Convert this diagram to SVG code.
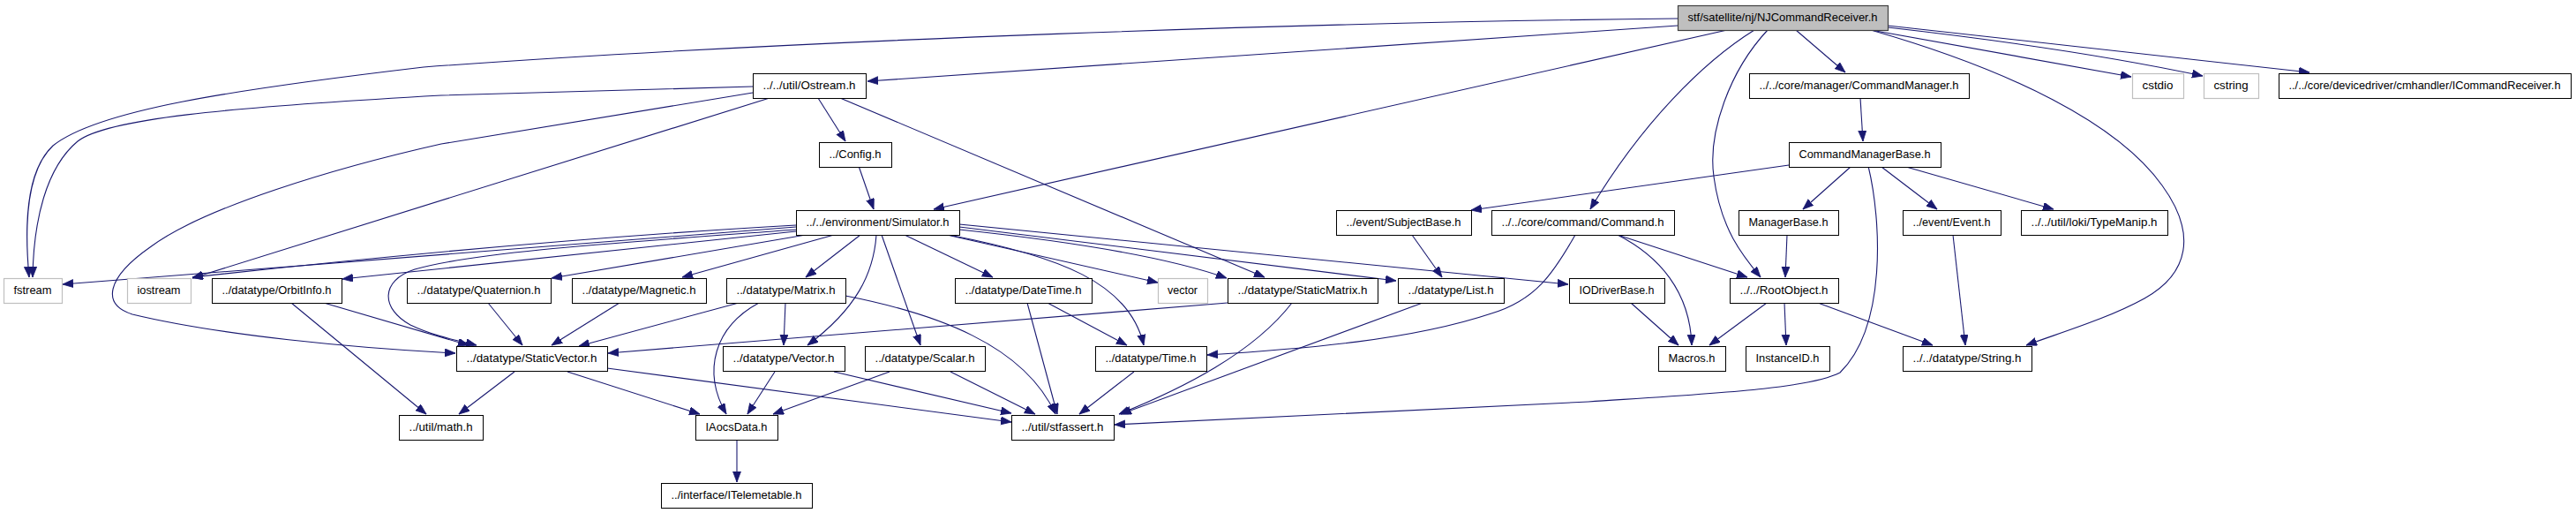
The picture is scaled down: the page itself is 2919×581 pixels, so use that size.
<svg xmlns="http://www.w3.org/2000/svg" width="2919" height="581" viewBox="0 0 2919 581">
<style>
.box{fill:#ffffff;stroke:#000000;stroke-width:1}
.ext{fill:#ffffff;stroke:#bfbfbf;stroke-width:1.2}
.root{fill:#bfbfbf;stroke:#404040;stroke-width:1.2}
text{font-family:"Liberation Sans",Arial,sans-serif;font-size:13px;fill:#000000;text-anchor:middle}
.e{fill:none;stroke:#191970;stroke-width:1.1;marker-end:url(#arr)}
</style>
<defs>
<marker id="arr" markerUnits="userSpaceOnUse" markerWidth="13" markerHeight="10" refX="12" refY="4.5" orient="auto">
<path d="M0,0 L12,4.5 L0,9 z" fill="#191970" stroke="#191970" stroke-width="0.8"/>
</marker>
</defs>
<rect width="2919" height="581" fill="#ffffff"/>
<g id="connectors">
<path class="e" d="M1901,21 C1500,25 900,45 480,76 C260,102 110,125 60,165 C28,195 28,260 33,314"/>
<path class="e" d="M853,98 L500,108 C250,122 120,135 88,160 C52,190 38,250 37,314"/>
<path class="e" d="M1901,29 L983,92"/>
<path class="e" d="M1957,34 L1058,237"/>
<path class="e" d="M1988,34 C1930,70 1860,140 1802,237"/>
<path class="e" d="M2003,34 C1960,80 1935,150 1942,200 C1950,260 1975,290 1995,314"/>
<path class="e" d="M2035,34 L2091,82"/>
<path class="e" d="M2120,34 C2280,80 2400,140 2450,210 C2490,265 2480,310 2430,338 C2390,360 2340,375 2296,391"/>
<path class="e" d="M2120,34 L2415,87"/>
<path class="e" d="M2139,31 Q2350,55 2496,86"/>
<path class="e" d="M2139,29 L2617,82"/>
<path class="e" d="M853,105 L500,163 C380,190 230,235 170,280 C120,315 115,345 150,356 C250,380 400,394 516,400"/>
<path class="e" d="M872,111 L218,315"/>
<path class="e" d="M927,111 L958,160"/>
<path class="e" d="M952,111 L1433,314"/>
<path class="e" d="M973,188 L990,237"/>
<path class="e" d="M902,257 L71,322"/>
<path class="e" d="M902,255 Q600,272 218,314"/>
<path class="e" d="M902,262 L388,316"/>
<path class="e" d="M902,260 C700,275 540,285 470,305 C430,318 432,350 465,368 C490,380 515,385 540,391"/>
<path class="e" d="M913,266 L625,315"/>
<path class="e" d="M945,266 L773,314"/>
<path class="e" d="M975,266 L913,314"/>
<path class="e" d="M993,266 C990,310 970,350 915,391"/>
<path class="e" d="M999,266 L1043,391"/>
<path class="e" d="M1025,266 L1125,314"/>
<path class="e" d="M1073,266 L1312,320"/>
<path class="e" d="M1075,266 C1200,290 1280,320 1296,391"/>
<path class="e" d="M1087,260 C1200,272 1320,290 1390,315"/>
<path class="e" d="M1087,257 L1582,318"/>
<path class="e" d="M1087,254 L1777,322"/>
<path class="e" d="M367,343 L531,391"/>
<path class="e" d="M330,343 L483,469"/>
<path class="e" d="M553,343 L592,391"/>
<path class="e" d="M702,343 L625,391"/>
<path class="e" d="M837,343 L656,392"/>
<path class="e" d="M1391,343 L689,400"/>
<path class="e" d="M890,343 L888,391"/>
<path class="e" d="M860,343 C810,370 795,420 823,469"/>
<path class="e" d="M958,335 C1060,355 1160,390 1196,469"/>
<path class="e" d="M583,421 L520,469"/>
<path class="e" d="M643,421 L793,469"/>
<path class="e" d="M688,417 L1146,478"/>
<path class="e" d="M878,421 L847,469"/>
<path class="e" d="M945,421 L1146,468"/>
<path class="e" d="M1008,421 L876,469"/>
<path class="e" d="M1077,421 L1173,469"/>
<path class="e" d="M1164,343 L1198,469"/>
<path class="e" d="M1187,343 L1277,391"/>
<path class="e" d="M1285,421 L1223,469"/>
<path class="e" d="M1464,343 C1420,400 1340,440 1268,469"/>
<path class="e" d="M1612,343 L1270,469"/>
<path class="e" d="M2117,188 C2132,250 2138,370 2085,422 C2050,440 1950,445 1800,455 L1263,481"/>
<path class="e" d="M1785,266 C1760,310 1740,340 1690,355 C1600,385 1480,395 1368,402"/>
<path class="e" d="M1833,266 C1880,290 1915,330 1917,391"/>
<path class="e" d="M1833,266 L1980,314"/>
<path class="e" d="M1600,266 L1634,314"/>
<path class="e" d="M1848,343 L1902,391"/>
<path class="e" d="M2002,343 L1937,391"/>
<path class="e" d="M2022,343 L2024,391"/>
<path class="e" d="M2060,343 L2190,391"/>
<path class="e" d="M2213,266 L2227,391"/>
<path class="e" d="M2025,266 L2023,314"/>
<path class="e" d="M2027,187 L1667,238"/>
<path class="e" d="M2097,189 L2043,237"/>
<path class="e" d="M2132,189 L2195,237"/>
<path class="e" d="M2160,189 L2327,237"/>
<path class="e" d="M2108,111 L2111,160"/>
<path class="e" d="M835,498 L835,546"/>
</g>
<g id="n_root"><rect class="root" x="1901.5" y="6.5" width="238" height="28"/><text x="2020" y="24" textLength="215" lengthAdjust="spacingAndGlyphs">stf/satellite/nj/NJCommandReceiver.h</text></g>
<g id="n_ostream"><rect class="box" x="853.5" y="83.5" width="128" height="28"/><text x="917" y="101" textLength="105" lengthAdjust="spacingAndGlyphs">../../util/Ostream.h</text></g>
<g id="n_cmdmgr"><rect class="box" x="1982.5" y="83.5" width="249" height="28"/><text x="2106.5" y="101" textLength="226" lengthAdjust="spacingAndGlyphs">../../core/manager/CommandManager.h</text></g>
<g id="n_cstdio"><rect class="ext" x="2416.5" y="83.5" width="58" height="28"/><text x="2445" y="101" textLength="35" lengthAdjust="spacingAndGlyphs">cstdio</text></g>
<g id="n_cstring"><rect class="ext" x="2497.5" y="83.5" width="62" height="28"/><text x="2528" y="101" textLength="39" lengthAdjust="spacingAndGlyphs">cstring</text></g>
<g id="n_icmdrecv"><rect class="box" x="2582.5" y="83.5" width="331" height="28"/><text x="2747.5" y="101" textLength="308" lengthAdjust="spacingAndGlyphs">../../core/devicedriver/cmhandler/ICommandReceiver.h</text></g>
<g id="n_config"><rect class="box" x="928.5" y="161.5" width="82" height="28"/><text x="969" y="179" textLength="59" lengthAdjust="spacingAndGlyphs">../Config.h</text></g>
<g id="n_cmbase"><rect class="box" x="2027.5" y="161.5" width="172" height="28"/><text x="2113" y="179" textLength="149" lengthAdjust="spacingAndGlyphs">CommandManagerBase.h</text></g>
<g id="n_simulator"><rect class="box" x="902.5" y="238.5" width="185" height="28"/><text x="994.5" y="256" textLength="162" lengthAdjust="spacingAndGlyphs">../../environment/Simulator.h</text></g>
<g id="n_subjectbase"><rect class="box" x="1514.5" y="238.5" width="153" height="28"/><text x="1590.5" y="256" textLength="130" lengthAdjust="spacingAndGlyphs">../event/SubjectBase.h</text></g>
<g id="n_command"><rect class="box" x="1690.5" y="238.5" width="207" height="28"/><text x="1793.5" y="256" textLength="184" lengthAdjust="spacingAndGlyphs">../../core/command/Command.h</text></g>
<g id="n_managerbase"><rect class="box" x="1970.5" y="238.5" width="113" height="28"/><text x="2026.5" y="256" textLength="90" lengthAdjust="spacingAndGlyphs">ManagerBase.h</text></g>
<g id="n_event"><rect class="box" x="2156.5" y="238.5" width="111" height="28"/><text x="2211.5" y="256" textLength="88" lengthAdjust="spacingAndGlyphs">../event/Event.h</text></g>
<g id="n_typemanip"><rect class="box" x="2290.5" y="238.5" width="166" height="28"/><text x="2373" y="256" textLength="143" lengthAdjust="spacingAndGlyphs">../../util/loki/TypeManip.h</text></g>
<g id="n_fstream"><rect class="ext" x="4.5" y="315.5" width="66" height="28"/><text x="37" y="333" textLength="43" lengthAdjust="spacingAndGlyphs">fstream</text></g>
<g id="n_iostream"><rect class="ext" x="144.5" y="315.5" width="72" height="28"/><text x="180" y="333" textLength="49" lengthAdjust="spacingAndGlyphs">iostream</text></g>
<g id="n_orbitinfo"><rect class="box" x="240.5" y="315.5" width="147" height="28"/><text x="313.5" y="333" textLength="124" lengthAdjust="spacingAndGlyphs">../datatype/OrbitInfo.h</text></g>
<g id="n_quaternion"><rect class="box" x="461.5" y="315.5" width="163" height="28"/><text x="542.5" y="333" textLength="140" lengthAdjust="spacingAndGlyphs">../datatype/Quaternion.h</text></g>
<g id="n_magnetic"><rect class="box" x="648.5" y="315.5" width="152" height="28"/><text x="724" y="333" textLength="129" lengthAdjust="spacingAndGlyphs">../datatype/Magnetic.h</text></g>
<g id="n_matrix"><rect class="box" x="823.5" y="315.5" width="135" height="28"/><text x="890.5" y="333" textLength="112" lengthAdjust="spacingAndGlyphs">../datatype/Matrix.h</text></g>
<g id="n_datetime"><rect class="box" x="1082.5" y="315.5" width="155" height="28"/><text x="1159.5" y="333" textLength="132" lengthAdjust="spacingAndGlyphs">../datatype/DateTime.h</text></g>
<g id="n_vector"><rect class="ext" x="1312.5" y="315.5" width="56" height="28"/><text x="1340" y="333" textLength="34" lengthAdjust="spacingAndGlyphs">vector</text></g>
<g id="n_staticmatrix"><rect class="box" x="1391.5" y="315.5" width="170" height="28"/><text x="1476" y="333" textLength="147" lengthAdjust="spacingAndGlyphs">../datatype/StaticMatrix.h</text></g>
<g id="n_list"><rect class="box" x="1584.5" y="315.5" width="120" height="28"/><text x="1644" y="333" textLength="97" lengthAdjust="spacingAndGlyphs">../datatype/List.h</text></g>
<g id="n_iodriverbase"><rect class="box" x="1778.5" y="315.5" width="108" height="28"/><text x="1832" y="333" textLength="85" lengthAdjust="spacingAndGlyphs">IODriverBase.h</text></g>
<g id="n_rootobject"><rect class="box" x="1960.5" y="315.5" width="123" height="28"/><text x="2021.5" y="333" textLength="100" lengthAdjust="spacingAndGlyphs">../../RootObject.h</text></g>
<g id="n_staticvector"><rect class="box" x="517.5" y="392.5" width="171" height="28"/><text x="602.5" y="410" textLength="148" lengthAdjust="spacingAndGlyphs">../datatype/StaticVector.h</text></g>
<g id="n_vectorh"><rect class="box" x="819.5" y="392.5" width="138" height="28"/><text x="888" y="410" textLength="115" lengthAdjust="spacingAndGlyphs">../datatype/Vector.h</text></g>
<g id="n_scalar"><rect class="box" x="980.5" y="392.5" width="136" height="28"/><text x="1048" y="410" textLength="113" lengthAdjust="spacingAndGlyphs">../datatype/Scalar.h</text></g>
<g id="n_time"><rect class="box" x="1241.5" y="392.5" width="126" height="28"/><text x="1304" y="410" textLength="103" lengthAdjust="spacingAndGlyphs">../datatype/Time.h</text></g>
<g id="n_macros"><rect class="box" x="1879.5" y="392.5" width="76" height="28"/><text x="1917" y="410" textLength="53" lengthAdjust="spacingAndGlyphs">Macros.h</text></g>
<g id="n_instanceid"><rect class="box" x="1978.5" y="392.5" width="95" height="28"/><text x="2025.5" y="410" textLength="72" lengthAdjust="spacingAndGlyphs">InstanceID.h</text></g>
<g id="n_string"><rect class="box" x="2156.5" y="392.5" width="146" height="28"/><text x="2229" y="410" textLength="123" lengthAdjust="spacingAndGlyphs">../../datatype/String.h</text></g>
<g id="n_math"><rect class="box" x="452.5" y="470.5" width="95" height="28"/><text x="499.5" y="488" textLength="72" lengthAdjust="spacingAndGlyphs">../util/math.h</text></g>
<g id="n_iaocsdata"><rect class="box" x="788.5" y="470.5" width="93" height="28"/><text x="834.5" y="488" textLength="70" lengthAdjust="spacingAndGlyphs">IAocsData.h</text></g>
<g id="n_stfassert"><rect class="box" x="1146.5" y="470.5" width="116" height="28"/><text x="1204" y="488" textLength="93" lengthAdjust="spacingAndGlyphs">../util/stfassert.h</text></g>
<g id="n_itelemetable"><rect class="box" x="749.5" y="547.5" width="171" height="28"/><text x="834.5" y="565" textLength="148" lengthAdjust="spacingAndGlyphs">../interface/ITelemetable.h</text></g>
</svg>
